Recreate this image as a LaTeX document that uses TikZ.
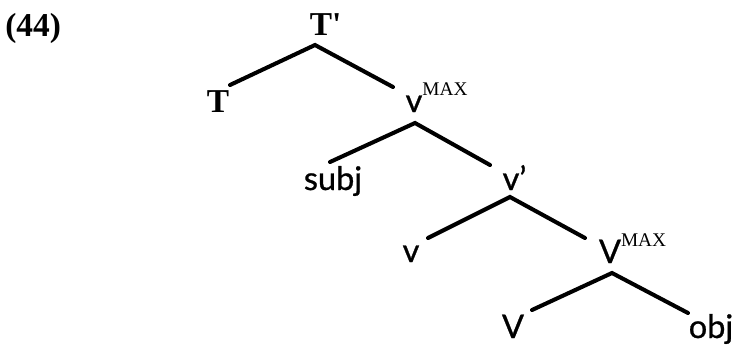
\documentclass[tikz,border=0pt]{standalone}
\usepackage{fontspec}
\setmainfont{Lato}[UprightFeatures={FakeBold=0.8}]
\newfontfamily\serifT{Liberation Serif}
\usetikzlibrary{calc}
\newcommand{\maxsup}{\rlap{\raisebox{9.4pt}{\serifT\fontsize{11}{13}\selectfont MAX}}}

\begin{document}
\begin{tikzpicture}[
  x=0.02cm, y=-0.02cm,
  lbl/.style={inner sep=0pt, anchor=base, font=\fontsize{18.5}{22}\selectfont},
  tlbl/.style={lbl, font=\serifT\bfseries\fontsize{19}{22}\selectfont},
  branch/.style={line width=2.3pt, line cap=round}
]
  \useasboundingbox (0,0) rectangle (740,345);
  \node[tlbl, anchor=base west] (ex) at (5,36) {(44)};
  % tree labels
  \node[tlbl] (Tp) at (321,35) {T\rlap{'}};
  \node[tlbl] (T) at (218,112) {T};
  \node[lbl] (vmax) at (414,112) {v\maxsup};
  \node[lbl] (subj) at (333,190) {subj};
  \node[lbl] (vbar) at (511,190) {v\rlap{'}};
  \node[lbl] (v) at (411,262) {v};
  \node[lbl] (Vmax) at (610,263) {V\maxsup};
  \node[lbl] (V) at (513,338) {V};
  \node[lbl] (obj) at (711,338) {obj};
  % branches
  \draw[branch] ($(T.base)+(12,-27)$) -- ($(Tp.base)+(-6,10)$) -- ($(vmax.base)+(-21,-25)$);
  \draw[branch] ($(subj.base)+(-3,-28)$) -- ($(vmax.base)+(1,11)$) -- ($(vbar.base)+(-21,-25)$);
  \draw[branch] ($(v.base)+(17,-24)$) -- ($(vbar.base)+(-1,7)$) -- ($(Vmax.base)+(-25,-25)$);
  \draw[branch] ($(V.base)+(19,-28)$) -- ($(Vmax.base)+(2,10)$) -- ($(obj.base)+(-23,-25)$);
\end{tikzpicture}
\end{document}
